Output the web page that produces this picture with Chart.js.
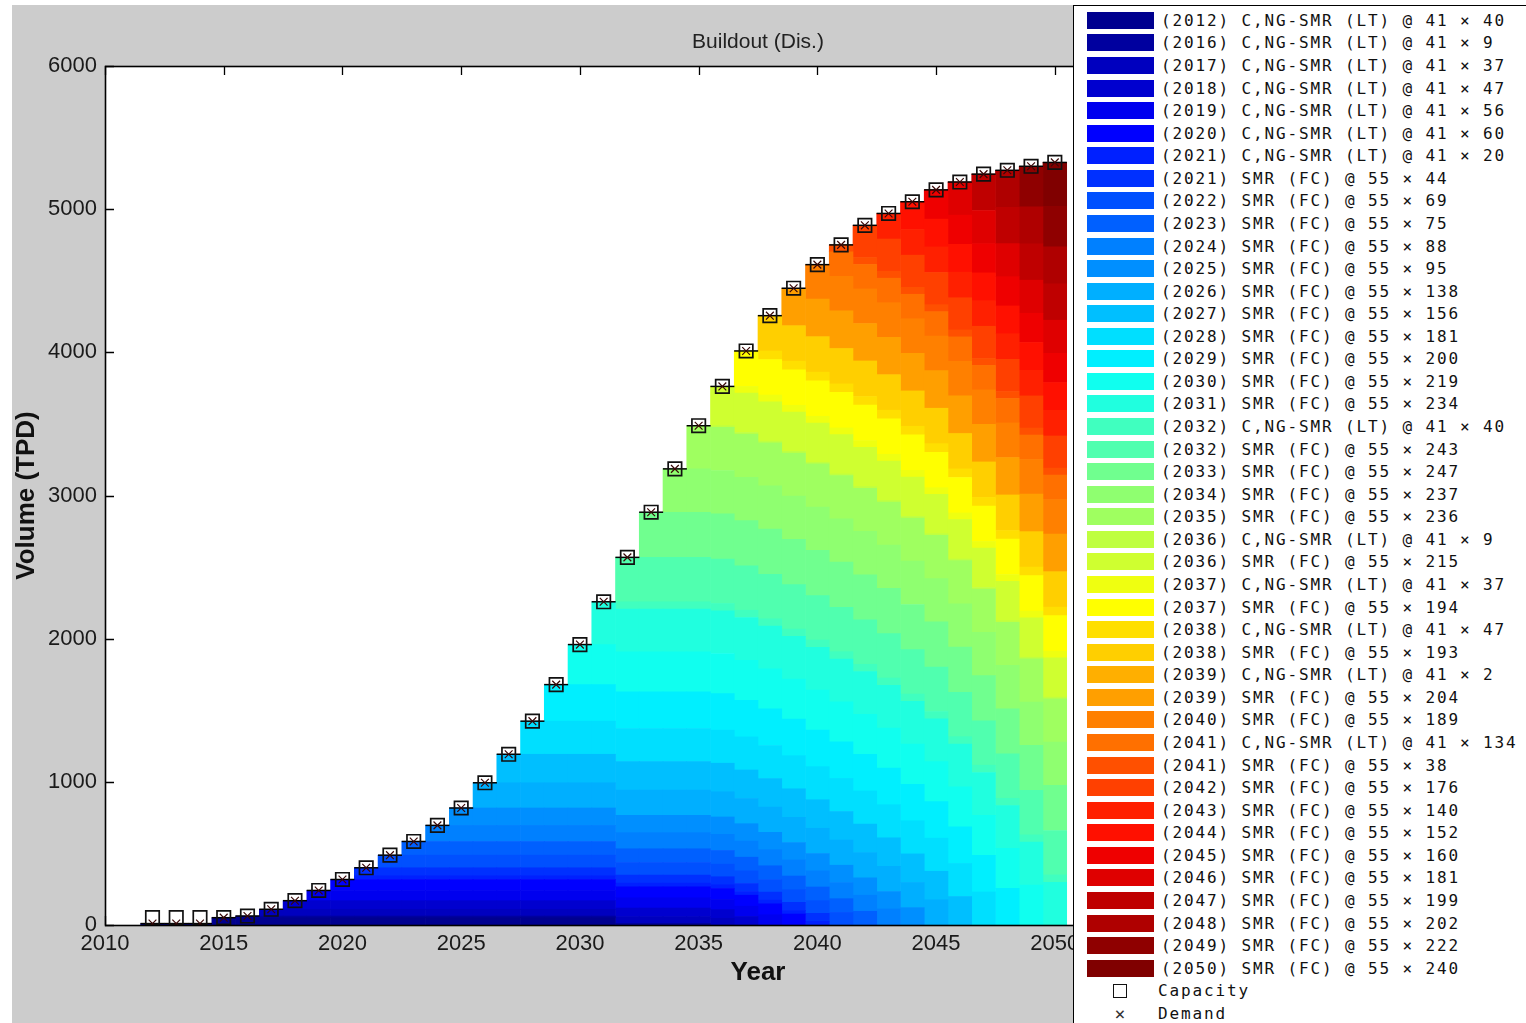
<!DOCTYPE html>
<html><head><meta charset="utf-8">
<script src="https://cdn.jsdelivr.net/npm/chart.js@4.4.0/dist/chart.umd.min.js"></script>
<style>
html,body{margin:0;padding:0;background:#fff;width:1526px;height:1023px;overflow:hidden;}
#fig{position:absolute;left:12px;top:5px;width:1514px;height:1018px;background:#cccccc;}
#c{position:absolute;left:0;top:0;}
#legend{position:absolute;left:1073px;top:5px;width:470px;height:1040px;background:#fff;border:1px solid #000;box-sizing:border-box;}
.sw{position:absolute;left:13px;width:67px;height:17px;}
.lt{position:absolute;left:87px;height:17px;line-height:17px;font-family:'DejaVu Sans Mono',monospace;font-size:16px;letter-spacing:1.87px;color:#111;white-space:pre;}
.mk{position:absolute;left:39px;width:14px;height:14px;border:1.6px solid #111;box-sizing:border-box;}
.mx{position:absolute;left:36px;width:20px;height:17px;line-height:17px;text-align:center;font-family:'DejaVu Sans Mono',monospace;font-size:18px;color:#333;}
</style></head>
<body>
<div id="fig"><canvas id="c" width="1514" height="1018"></canvas></div>
<div id="legend"></div>
<script>
const _ = null;
const years = [2012,2013,2014,2015,2016,2017,2018,2019, 2020,2021,2022,2023,2024,2025,2026,2027,2028,2029, 2030,2031,2032,2033,2034,2035,2036,2037,2038,2039, 2040,2041,2042,2043,2044,2045,2046,2047,2048,2049,2050];

// dispatched volume (TPD) of each vintage, per year 2012..2050
const c2012 = [10,10,10,51.1,51.1,51.1,51.1,51.1, 51.1,51.1,51.1,51.1,51.1,51.1,51.1,51.1,51.1,51.1, 51.1,51.1,_,_,_,_,_,_,_,_, _,_,_,_,_,_,_,_,_,_,_];
const c2016 = [_,_,_,_,11.5,11.5,11.5,11.5, 11.5,11.5,11.5,11.5,11.5,11.5,11.5,11.5,11.5,11.5, 11.5,11.5,11.5,11.5,11.5,11.5,_,_,_,_, _,_,_,_,_,_,_,_,_,_,_];
const c2017 = [_,_,_,_,_,47.2,47.2,47.2, 47.2,47.2,47.2,47.2,47.2,47.2,47.2,47.2,47.2,47.2, 47.2,47.2,47.2,47.2,47.2,47.2,47.2,_,_,_, _,_,_,_,_,_,_,_,_,_,_];
const c2018 = [_,_,_,_,_,_,60,60, 60,60,60,60,60,60,60,60,60,60, 60,60,60,60,60,60,60,60,_,_, _,_,_,_,_,_,_,_,_,_,_];
const c2019 = [_,_,_,_,_,_,_,71.5, 71.5,71.5,71.5,71.5,71.5,71.5,71.5,71.5,71.5,71.5, 71.5,71.5,71.5,71.5,71.5,71.5,71.5,71.5,71.5,_, _,_,_,_,_,_,_,_,_,_,_];
const c2020 = [_,_,_,_,_,_,_,_, 76.6,76.6,76.6,76.6,76.6,76.6,76.6,76.6,76.6,76.6, 76.6,76.6,76.6,76.6,76.6,76.6,76.6,76.6,76.6,76.6, _,_,_,_,_,_,_,_,_,_,_];
const c2021 = [_,_,_,_,_,_,_,_, _,25.5,25.5,25.5,25.5,25.5,25.5,25.5,25.5,25.5, 25.5,25.5,25.5,25.5,25.5,25.5,25.5,25.5,25.5,25.5, 25.5,_,_,_,_,_,_,_,_,_,_];
const s2021 = [_,_,_,_,_,_,_,_, _,56.2,56.2,56.2,56.2,56.2,56.2,56.2,56.2,56.2, 56.2,56.2,56.2,56.2,56.2,56.2,56.2,56.2,56.2,56.2, 56.2,_,_,_,_,_,_,_,_,_,_];
const s2022 = [_,_,_,_,_,_,_,_, _,_,88.1,88.1,88.1,88.1,88.1,88.1,88.1,88.1, 88.1,88.1,88.1,88.1,88.1,88.1,88.1,88.1,88.1,88.1, 88.1,88.1,_,_,_,_,_,_,_,_,_];
const s2023 = [_,_,_,_,_,_,_,_, _,_,_,95.8,95.8,95.8,95.8,95.8,95.8,95.8, 95.8,95.8,95.8,95.8,95.8,95.8,95.8,95.8,95.8,95.8, 95.8,95.8,95.8,_,_,_,_,_,_,_,_];
const s2024 = [_,_,_,_,_,_,_,_, _,_,_,_,112.4,112.4,112.4,112.4,112.4,112.4, 112.4,112.4,112.4,112.4,112.4,112.4,112.4,112.4,112.4,112.4, 112.4,112.4,112.4,112.4,_,_,_,_,_,_,_];
const s2025 = [_,_,_,_,_,_,_,_, _,_,_,_,_,121.3,121.3,121.3,121.3,121.3, 121.3,121.3,121.3,121.3,121.3,121.3,121.3,121.3,121.3,121.3, 121.3,121.3,121.3,121.3,121.3,_,_,_,_,_,_];
const s2026 = [_,_,_,_,_,_,_,_, _,_,_,_,_,_,176.2,176.2,176.2,176.2, 176.2,176.2,176.2,176.2,176.2,176.2,176.2,176.2,176.2,176.2, 176.2,176.2,176.2,176.2,176.2,176.2,_,_,_,_,_];
const s2027 = [_,_,_,_,_,_,_,_, _,_,_,_,_,_,_,199.2,199.2,199.2, 199.2,199.2,199.2,199.2,199.2,199.2,199.2,199.2,199.2,199.2, 199.2,199.2,199.2,199.2,199.2,199.2,199.2,_,_,_,_];
const s2028 = [_,_,_,_,_,_,_,_, _,_,_,_,_,_,_,_,231.1,231.1, 231.1,231.1,231.1,231.1,231.1,231.1,231.1,231.1,231.1,231.1, 231.1,231.1,231.1,231.1,231.1,231.1,231.1,231.1,_,_,_];
const s2029 = [_,_,_,_,_,_,_,_, _,_,_,_,_,_,_,_,_,255.4, 255.4,255.4,255.4,255.4,255.4,255.4,255.4,255.4,255.4,255.4, 255.4,255.4,255.4,255.4,255.4,255.4,255.4,255.4,255.4,_,_];
const s2030 = [_,_,_,_,_,_,_,_, _,_,_,_,_,_,_,_,_,_, 279.7,279.7,279.7,279.7,279.7,279.7,279.7,279.7,279.7,279.7, 279.7,279.7,279.7,279.7,279.7,279.7,279.7,279.7,279.7,279.7,_];
const s2031 = [_,_,_,_,_,_,_,_, _,_,_,_,_,_,_,_,_,_, _,298.8,298.8,298.8,298.8,298.8,298.8,298.8,298.8,298.8, 298.8,298.8,298.8,298.8,298.8,298.8,298.8,298.8,298.8,298.8,298.8];
const c2032 = [_,_,_,_,_,_,_,_, _,_,_,_,_,_,_,_,_,_, _,_,51.1,51.1,51.1,51.1,51.1,51.1,51.1,51.1, 51.1,51.1,51.1,51.1,51.1,51.1,51.1,51.1,51.1,51.1,51.1];
const s2032 = [_,_,_,_,_,_,_,_, _,_,_,_,_,_,_,_,_,_, _,_,310.3,310.3,310.3,310.3,310.3,310.3,310.3,310.3, 310.3,310.3,310.3,310.3,310.3,310.3,310.3,310.3,310.3,310.3,310.3];
const s2033 = [_,_,_,_,_,_,_,_, _,_,_,_,_,_,_,_,_,_, _,_,_,315.4,315.4,315.4,315.4,315.4,315.4,315.4, 315.4,315.4,315.4,315.4,315.4,315.4,315.4,315.4,315.4,315.4,315.4];
const s2034 = [_,_,_,_,_,_,_,_, _,_,_,_,_,_,_,_,_,_, _,_,_,_,302.6,302.6,302.6,302.6,302.6,302.6, 302.6,302.6,302.6,302.6,302.6,302.6,302.6,302.6,302.6,302.6,302.6];
const s2035 = [_,_,_,_,_,_,_,_, _,_,_,_,_,_,_,_,_,_, _,_,_,_,_,301.4,301.4,301.4,301.4,301.4, 301.4,301.4,301.4,301.4,301.4,301.4,301.4,301.4,301.4,301.4,301.4];
const c2036 = [_,_,_,_,_,_,_,_, _,_,_,_,_,_,_,_,_,_, _,_,_,_,_,_,11.5,11.5,11.5,11.5, 11.5,11.5,11.5,11.5,11.5,11.5,11.5,11.5,11.5,11.5,11.5];
const s2036 = [_,_,_,_,_,_,_,_, _,_,_,_,_,_,_,_,_,_, _,_,_,_,_,_,274.6,274.6,274.6,274.6, 274.6,274.6,274.6,274.6,274.6,274.6,274.6,274.6,274.6,274.6,274.6];
const c2037 = [_,_,_,_,_,_,_,_, _,_,_,_,_,_,_,_,_,_, _,_,_,_,_,_,_,47.2,47.2,47.2, 47.2,47.2,47.2,47.2,47.2,47.2,47.2,47.2,47.2,47.2,47.2];
const s2037 = [_,_,_,_,_,_,_,_, _,_,_,_,_,_,_,_,_,_, _,_,_,_,_,_,_,247.7,247.7,247.7, 247.7,247.7,247.7,247.7,247.7,247.7,247.7,247.7,247.7,247.7,247.7];
const c2038 = [_,_,_,_,_,_,_,_, _,_,_,_,_,_,_,_,_,_, _,_,_,_,_,_,_,_,60,60, 60,60,60,60,60,60,60,60,60,60,60];
const s2038 = [_,_,_,_,_,_,_,_, _,_,_,_,_,_,_,_,_,_, _,_,_,_,_,_,_,_,246.5,246.5, 246.5,246.5,246.5,246.5,246.5,246.5,246.5,246.5,246.5,246.5,246.5];
const c2039 = [_,_,_,_,_,_,_,_, _,_,_,_,_,_,_,_,_,_, _,_,_,_,_,_,_,_,_,2.6, 2.6,2.6,2.6,2.6,2.6,2.6,2.6,2.6,2.6,2.6,2.6];
const s2039 = [_,_,_,_,_,_,_,_, _,_,_,_,_,_,_,_,_,_, _,_,_,_,_,_,_,_,_,260.5, 260.5,260.5,260.5,260.5,260.5,260.5,260.5,260.5,260.5,260.5,260.5];
const s2040 = [_,_,_,_,_,_,_,_, _,_,_,_,_,_,_,_,_,_, _,_,_,_,_,_,_,_,_,_, 241.4,241.4,241.4,241.4,241.4,241.4,241.4,241.4,241.4,241.4,241.4];
const c2041 = [_,_,_,_,_,_,_,_, _,_,_,_,_,_,_,_,_,_, _,_,_,_,_,_,_,_,_,_, _,171.1,171.1,171.1,171.1,171.1,171.1,171.1,171.1,171.1,171.1];
const s2041 = [_,_,_,_,_,_,_,_, _,_,_,_,_,_,_,_,_,_, _,_,_,_,_,_,_,_,_,_, _,48.5,48.5,48.5,48.5,48.5,48.5,48.5,48.5,48.5,48.5];
const s2042 = [_,_,_,_,_,_,_,_, _,_,_,_,_,_,_,_,_,_, _,_,_,_,_,_,_,_,_,_, _,_,224.8,224.8,224.8,224.8,224.8,224.8,224.8,224.8,224.8];
const s2043 = [_,_,_,_,_,_,_,_, _,_,_,_,_,_,_,_,_,_, _,_,_,_,_,_,_,_,_,_, _,_,_,178.8,178.8,178.8,178.8,178.8,178.8,178.8,178.8];
const s2044 = [_,_,_,_,_,_,_,_, _,_,_,_,_,_,_,_,_,_, _,_,_,_,_,_,_,_,_,_, _,_,_,_,194.1,194.1,194.1,194.1,194.1,194.1,194.1];
const s2045 = [_,_,_,_,_,_,_,_, _,_,_,_,_,_,_,_,_,_, _,_,_,_,_,_,_,_,_,_, _,_,_,_,_,204.3,204.3,204.3,204.3,204.3,204.3];
const s2046 = [_,_,_,_,_,_,_,_, _,_,_,_,_,_,_,_,_,_, _,_,_,_,_,_,_,_,_,_, _,_,_,_,_,_,231.1,231.1,231.1,231.1,231.1];
const s2047 = [_,_,_,_,_,_,_,_, _,_,_,_,_,_,_,_,_,_, _,_,_,_,_,_,_,_,_,_, _,_,_,_,_,_,_,254.1,254.1,254.1,254.1];
const s2048 = [_,_,_,_,_,_,_,_, _,_,_,_,_,_,_,_,_,_, _,_,_,_,_,_,_,_,_,_, _,_,_,_,_,_,_,_,258,258,258];
const s2049 = [_,_,_,_,_,_,_,_, _,_,_,_,_,_,_,_,_,_, _,_,_,_,_,_,_,_,_,_, _,_,_,_,_,_,_,_,_,283.5,283.5];
const s2050 = [_,_,_,_,_,_,_,_, _,_,_,_,_,_,_,_,_,_, _,_,_,_,_,_,_,_,_,_, _,_,_,_,_,_,_,_,_,_,306.5];

const seriesLabels = [
 "(2012) C,NG-SMR (LT) @ 41 × 40","(2016) C,NG-SMR (LT) @ 41 × 9","(2017) C,NG-SMR (LT) @ 41 × 37",
 "(2018) C,NG-SMR (LT) @ 41 × 47","(2019) C,NG-SMR (LT) @ 41 × 56","(2020) C,NG-SMR (LT) @ 41 × 60",
 "(2021) C,NG-SMR (LT) @ 41 × 20","(2021) SMR (FC) @ 55 × 44","(2022) SMR (FC) @ 55 × 69",
 "(2023) SMR (FC) @ 55 × 75","(2024) SMR (FC) @ 55 × 88","(2025) SMR (FC) @ 55 × 95",
 "(2026) SMR (FC) @ 55 × 138","(2027) SMR (FC) @ 55 × 156","(2028) SMR (FC) @ 55 × 181",
 "(2029) SMR (FC) @ 55 × 200","(2030) SMR (FC) @ 55 × 219","(2031) SMR (FC) @ 55 × 234",
 "(2032) C,NG-SMR (LT) @ 41 × 40","(2032) SMR (FC) @ 55 × 243","(2033) SMR (FC) @ 55 × 247",
 "(2034) SMR (FC) @ 55 × 237","(2035) SMR (FC) @ 55 × 236","(2036) C,NG-SMR (LT) @ 41 × 9",
 "(2036) SMR (FC) @ 55 × 215","(2037) C,NG-SMR (LT) @ 41 × 37","(2037) SMR (FC) @ 55 × 194",
 "(2038) C,NG-SMR (LT) @ 41 × 47","(2038) SMR (FC) @ 55 × 193","(2039) C,NG-SMR (LT) @ 41 × 2",
 "(2039) SMR (FC) @ 55 × 204","(2040) SMR (FC) @ 55 × 189","(2041) C,NG-SMR (LT) @ 41 × 134",
 "(2041) SMR (FC) @ 55 × 38","(2042) SMR (FC) @ 55 × 176","(2043) SMR (FC) @ 55 × 140",
 "(2044) SMR (FC) @ 55 × 152","(2045) SMR (FC) @ 55 × 160","(2046) SMR (FC) @ 55 × 181",
 "(2047) SMR (FC) @ 55 × 199","(2048) SMR (FC) @ 55 × 202","(2049) SMR (FC) @ 55 × 222",
 "(2050) SMR (FC) @ 55 × 240"
];
const seriesValues = [c2012,c2016,c2017,c2018,c2019,c2020,c2021,s2021,s2022,s2023,s2024,s2025,s2026,s2027,s2028,s2029,s2030,s2031,
 c2032,s2032,s2033,s2034,s2035,c2036,s2036,c2037,s2037,c2038,s2038,c2039,s2039,s2040,c2041,s2041,s2042,s2043,s2044,s2045,s2046,s2047,s2048,s2049,s2050];

const capacity = [51.1,51.1,51.1,51.1,62.6,109.8,169.8,241.3, 317.9,399.6,487.7,583.5,695.9,817.2,993.4,1192.6,1423.7,1679.1, 1958.8,2257.6,2567.9,2883.3,3185.9,3487.3,3761.9,4009.6,4256.1,4447.7, 4612.5,4750.4,4887.1,4970.1,5051.8,5134.8,5189.7,5244.6,5271.5,5299.6,5326.4];
const demand = [10,10,10,51.1,62.6,109.8,169.8,241.3, 317.9,399.6,487.7,583.5,695.9,817.2,993.4,1192.6,1423.7,1679.1, 1958.8,2257.6,2567.9,2883.3,3185.9,3487.3,3761.9,4009.6,4256.1,4447.7, 4612.5,4750.4,4887.1,4970.1,5051.8,5134.8,5189.7,5244.6,5271.5,5299.6,5326.4];

const xAxisRange = [2010, 2065, 5];
const yAxisRange = [0, 6000, 1000];

// MATLAB jet(64) colormap
function u16(k){ return k<=16 ? k/16 : (k<=31 ? 1 : (48-k)/16); }
function jet64(j){
  const comp = i => (i>=1 && i<=47) ? u16(i) : 0;
  const r = comp(j-24), g = comp(j-8), b = comp(j+8);
  return `rgb(${Math.round(r*255)},${Math.round(g*255)},${Math.round(b*255)})`;
}
function seriesColor(k, n){ return jet64(Math.min(64, Math.floor(k/(n-1)*64)+1)); }

const TICKF = "'Liberation Sans', Arial, sans-serif";
const BOLD = "'Liberation Sans', Arial, sans-serif";
const n = seriesValues.length;

const datasets = seriesValues.map((vals,k)=>({
  type:'bar', label:seriesLabels[k], data:vals, backgroundColor:seriesColor(k,n),
  borderWidth:0, barPercentage:1, categoryPercentage:1, order:1
}));
datasets.push({type:'line', label:'Demand level', data:demand, showLine:false, pointStyle:'line', pointRadius:12,
  pointBorderWidth:1.5, pointBorderColor:'#000', pointBackgroundColor:'#000', stack:'st1', order:0});
datasets.push({type:'line', label:'Capacity', data:capacity, showLine:false, pointStyle:'rect', pointRadius:9.5,
  pointBorderWidth:1.7, pointBorderColor:'#111', pointBackgroundColor:'rgba(0,0,0,0)', stack:'st2', order:-1});
datasets.push({type:'line', label:'Demand', data:demand, showLine:false, pointStyle:'crossRot', pointRadius:5.5,
  pointBorderWidth:1.2, pointBorderColor:'#3a0808', stack:'st3', order:-2});

const frame = {
  id:'frame',
  beforeDraw(chart){
    const {ctx, chartArea:a} = chart;
    ctx.save(); ctx.fillStyle='#fff'; ctx.fillRect(a.left,a.top,a.right-a.left,a.bottom-a.top); ctx.restore();
  },
  beforeDatasetsDraw(chart){
    const {ctx, chartArea:a, scales:{x,y}} = chart;
    ctx.save(); ctx.strokeStyle='#000'; ctx.lineWidth=1.3; ctx.beginPath();
    x.ticks.forEach(t=>{ const p=Math.round(x.getPixelForValue(t.value))+0.5;
      ctx.moveTo(p,a.bottom); ctx.lineTo(p,a.bottom-9); ctx.moveTo(p,a.top); ctx.lineTo(p,a.top+9); });
    y.ticks.forEach(t=>{ const p=Math.round(y.getPixelForValue(t.value))+0.5;
      ctx.moveTo(a.left,p); ctx.lineTo(a.left+9,p); ctx.moveTo(a.right,p); ctx.lineTo(a.right-9,p); });
    ctx.stroke(); ctx.restore();
  },
  afterDatasetsDraw(chart){
    const {ctx, chartArea:a} = chart;
    ctx.save(); ctx.strokeStyle='#000'; ctx.lineWidth=1.6;
    ctx.strokeRect(Math.round(a.left)+0.5, Math.round(a.top)+0.5, Math.round(a.right-a.left), Math.round(a.bottom-a.top));
    ctx.restore();
  }
};

new Chart(document.getElementById('c'), {
  type:'bar',
  data:{labels:years, datasets},
  plugins:[frame],
  options:{
    responsive:false, animation:false, devicePixelRatio:1, events:[],
    layout:{padding:{left:0,right:115,top:0,bottom:0}},
    plugins:{
      legend:{display:false}, tooltip:{enabled:false},
      title:{display:true, text:'Buildout (Dis.)', fullSize:false, color:'#222',
        font:{family:TICKF, size:21, weight:'normal', lineHeight:1}, padding:{top:27,bottom:13}}
    },
    scales:{
      x:{type:'linear', min:xAxisRange[0], max:xAxisRange[1], offset:false, stacked:true,
        grid:{display:false, drawTicks:false}, border:{display:false},
        ticks:{stepSize:xAxisRange[2], autoSkip:false, maxRotation:0, padding:6, color:'#1a1a1a',
          font:{family:TICKF, size:22}, callback:v=>String(v)},
        title:{display:true, text:'Year', color:'#111', font:{family:BOLD, size:26, weight:'bold', lineHeight:1}, padding:{top:0,bottom:37}},
        afterFit(s){ s.height = 98; }},
      y:{min:yAxisRange[0], max:yAxisRange[1], stacked:true,
        grid:{display:false, drawTicks:false}, border:{display:false},
        ticks:{stepSize:yAxisRange[2], padding:8, color:'#1a1a1a', font:{family:TICKF, size:22}, callback:v=>String(v)},
        title:{display:true, text:'Volume (TPD)', color:'#111', font:{family:BOLD, size:26, weight:'bold', lineHeight:1}, padding:{top:2,bottom:0}},
        afterFit(s){ s.width = 93; }}
    }
  }
});

// legend box
const lg = document.getElementById('legend');
const rowY = i => 20.3 + i*22.57 - 6; // local centre
seriesLabels.forEach((t,k)=>{
  const sw=document.createElement('div'); sw.className='sw'; sw.style.top=(rowY(k)-8.5)+'px'; sw.style.background=seriesColor(k,n); lg.appendChild(sw);
  const tx=document.createElement('div'); tx.className='lt'; tx.style.top=(rowY(k)-8.5)+'px'; tx.textContent=t; lg.appendChild(tx);
});
{
  const i=n;
  const mk=document.createElement('div'); mk.className='mk'; mk.style.top=(rowY(i)-7)+'px'; lg.appendChild(mk);
  const tx=document.createElement('div'); tx.className='lt'; tx.style.left='84px'; tx.style.top=(rowY(i)-8.5)+'px'; tx.textContent='Capacity'; lg.appendChild(tx);
  const mx=document.createElement('div'); mx.className='mx'; mx.style.top=(rowY(i+1)-8.5)+'px'; mx.textContent='×'; lg.appendChild(mx);
  const t2=document.createElement('div'); t2.className='lt'; t2.style.left='84px'; t2.style.top=(rowY(i+1)-8.5)+'px'; t2.textContent='Demand'; lg.appendChild(t2);
}
</script>
</body></html>
